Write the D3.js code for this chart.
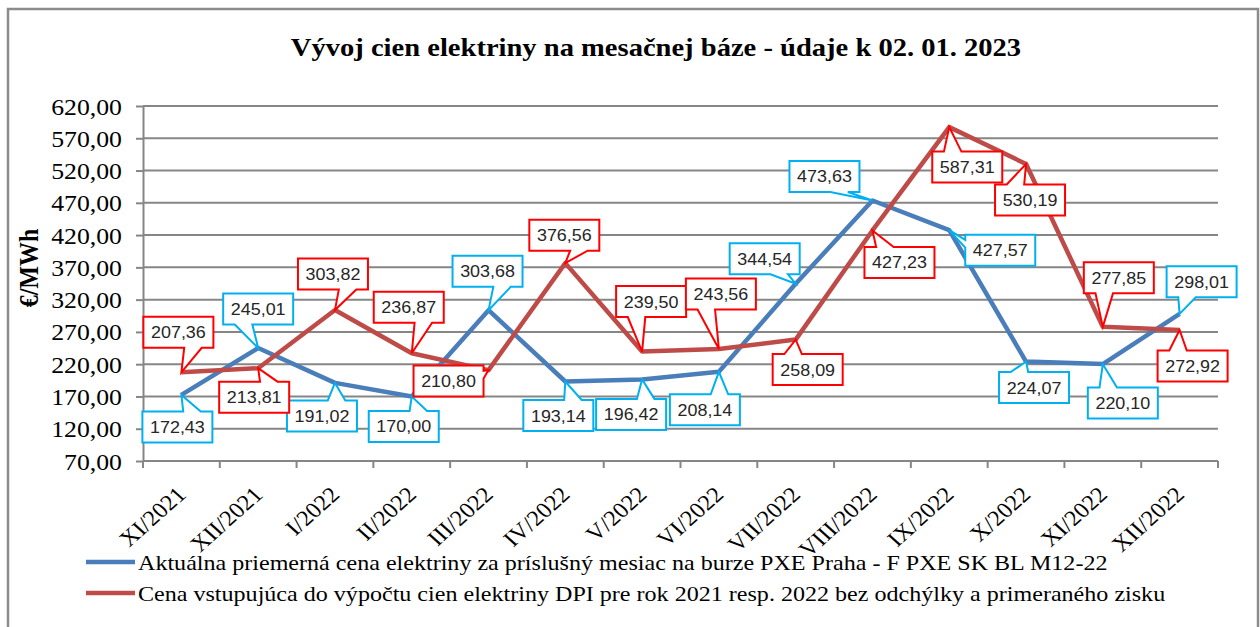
<!DOCTYPE html>
<html lang="sk">
<head>
<meta charset="utf-8">
<title>Vývoj cien elektriny na mesačnej báze</title>
<style>
  body { margin: 0; background: #fff; }
  .serif { font-family: "Liberation Serif", "Times New Roman", serif; fill: #000; }
  .callout text { font-family: "Liberation Sans", Arial, sans-serif; font-size: 16px; fill: #262626; }
</style>
</head>
<body>
<script src="https://cdn.jsdelivr.net/npm/d3@7/dist/d3.min.js"></script>
<script>

// ---- data ----
const categories = ["XI/2021", "XII/2021", "I/2022", "II/2022", "III/2022", "IV/2022", "V/2022",
                    "VI/2022", "VII/2022", "VIII/2022", "IX/2022", "X/2022", "XI/2022", "XII/2022"];
const pxeValues = [172.43, 245.01, 191.02, 170.00, 303.68, 193.14, 196.42,
                   208.14, 344.54, 473.63, 427.57, 224.07, 220.10, 298.01];
const dpiValues = [207.36, 213.81, 303.82, 236.87, 210.80, 376.56, 239.50,
                   243.56, 258.09, 427.23, 587.31, 530.19, 277.85, 272.92];
const yTicks = d3.range(70, 621, 50);
const seriesNames = [
  "Aktuálna priemerná cena elektriny za príslušný mesiac na burze PXE Praha - F PXE SK BL M12-22",
  "Cena vstupujúca do výpočtu cien elektriny DPI pre rok 2021 resp. 2022 bez odchýlky a primeraného zisku"
];
const title = "Vývoj cien elektriny na mesačnej báze - údaje k 02. 01. 2023";

// callout box offsets from their point (layout only)
const pxeCallout = [[-4, 32], [0, -39], [-13, 33], [-8, 30], [-1, -39], [-7, 34], [-11, 35],
                    [-14, 38], [-31, -25], [-48, -24], [51, 20], [8, 26], [20, 39], [22, -32]];
const dpiCallout = [[-3, -40], [-4, 29], [-2, -36], [-3, -46], [-40, 11], [-1, -28], [9, -50],
                    [2, -55], [12, 30], [27, 32], [18, 40], [4, 36], [16, -49], [13, 36]];

const W = 1260, H = 627;
const sx = 1.12;          // the source picture is a bit wider than tall
const gridColor = "#868686";
const blue = "#4a7ebb", red = "#be4b48";
const blueBorder = "#00b0f0", redBorder = "#ff0000";

const svg = d3.select("body").append("svg")
    .attr("width", W).attr("height", H);

// outer frame
svg.append("rect")
    .attr("x", 8).attr("y", 9).attr("width", 1250).attr("height", 660)
    .attr("fill", "#fff").attr("stroke", "#8c8c8c").attr("stroke-width", 2.5);

const x = d3.scaleBand().domain(categories).range([143, 1218]);
const y = d3.scaleLinear().domain([70, 620]).range([461, 106]);
const cx = c => x(c) + x.bandwidth() / 2;

// title
svg.append("text").attr("class", "serif")
    .attr("transform", `translate(656,56) scale(${sx},1)`)
    .attr("text-anchor", "middle")
    .style("font-size", "25.5px").style("font-weight", "bold")
    .text(title);

// gridlines
svg.append("g").selectAll("line")
  .data(yTicks.filter(d => d > 70))
  .join("line")
    .attr("x1", 143).attr("x2", 1218)
    .attr("y1", d => y(d)).attr("y2", d => y(d))
    .attr("stroke", gridColor).attr("stroke-width", 2);

// y axis
const fmt = d => d3.format(".2f")(d).replace(".", ",");
const yAxis = svg.append("g")
    .attr("transform", "translate(143,0)")
    .call(d3.axisLeft(y).tickValues(yTicks).tickSize(7).tickSizeOuter(0).tickFormat(fmt));
yAxis.attr("font-size", null).attr("font-family", null);
yAxis.select(".domain").attr("stroke", gridColor).attr("stroke-width", 2);
yAxis.selectAll(".tick line").attr("stroke", gridColor).attr("stroke-width", 2);
yAxis.selectAll(".tick text")
    .attr("class", "serif")
    .attr("x", null).attr("dy", null)
    .attr("transform", `translate(-21,8) scale(${sx},1)`)
    .style("font-size", "23px");
// axis line runs down to the x tick length
svg.append("line").attr("x1", 143).attr("x2", 143).attr("y1", 461).attr("y2", 468)
    .attr("stroke", gridColor).attr("stroke-width", 2);

// x axis line + ticks between categories
svg.append("line")
    .attr("x1", 143).attr("x2", 1218).attr("y1", y(70)).attr("y2", y(70))
    .attr("stroke", gridColor).attr("stroke-width", 2);
svg.append("g").selectAll("line")
  .data(categories.map(c => x(c)).concat([x.range()[1]]))
  .join("line")
    .attr("x1", d => d).attr("x2", d => d)
    .attr("y1", y(70)).attr("y2", y(70) + 7)
    .attr("stroke", gridColor).attr("stroke-width", 2);

svg.append("g").selectAll("text")
  .data(categories)
  .join("text")
    .attr("class", "serif")
    .attr("text-anchor", "end")
    .attr("transform", d => `translate(${cx(d) + 6},${y(70) + 35}) scale(${sx},1) rotate(-45)`)
    .style("font-size", "22px")
    .text(d => d);

// y axis title
svg.append("text").attr("class", "serif")
    .attr("transform", `translate(38,268) scale(${sx},1) rotate(-90)`)
    .attr("text-anchor", "middle")
    .style("font-size", "24px").style("font-weight", "bold")
    .text("€/MWh");

// series lines
const line = d3.line().x((d, i) => cx(categories[i])).y(d => y(d));
[[pxeValues, blue], [dpiValues, red]].forEach(([vals, col]) => {
  svg.append("path")
      .datum(vals)
      .attr("d", line)
      .attr("fill", "none")
      .attr("stroke", col)
      .attr("stroke-width", 4.5)
      .attr("stroke-linejoin", "round");
});

// Excel style rectangular callout with a wedge pointing at (px,py)
function calloutPath(l, t, w, h, px, py) {
  const r = l + w, b = t + h;
  const dx = px - (l + w / 2), dy = py - (t + h / 2);
  const dz = Math.abs(dy) - Math.abs(dx * h / w);
  const x1 = l + w * (dx > 0 ? 7 : 2) / 12, x2 = l + w * (dx > 0 ? 10 : 5) / 12;
  const y1 = t + h * (dy > 0 ? 7 : 2) / 12, y2 = t + h * (dy > 0 ? 10 : 5) / 12;
  if (dz > 0) {
    if (dy < 0) return `M${l},${t}L${x1},${t}L${px},${py}L${x2},${t}L${r},${t}L${r},${b}L${l},${b}Z`;
    return `M${l},${t}L${r},${t}L${r},${b}L${x2},${b}L${px},${py}L${x1},${b}L${l},${b}Z`;
  }
  if (dx < 0) return `M${l},${t}L${r},${t}L${r},${b}L${l},${b}L${l},${y2}L${px},${py}L${l},${y1}Z`;
  return `M${l},${t}L${r},${t}L${r},${y1}L${px},${py}L${r},${y2}L${r},${b}L${l},${b}Z`;
}

const boxW = 70, boxH = 31;
function drawCallouts(vals, offs, border) {
  const g = svg.append("g").attr("class", "callout");
  vals.forEach((v, i) => {
    const px = cx(categories[i]), py = y(v);
    const bx = px + offs[i][0], by = py + offs[i][1];
    g.append("path")
        .attr("d", calloutPath(bx - boxW / 2, by - boxH / 2, boxW, boxH, px, py))
        .attr("fill", "#fff")
        .attr("stroke", border)
        .attr("stroke-width", 2);
    g.append("text")
        .attr("transform", `translate(${bx},${by + 6}) scale(${sx},1)`)
        .attr("text-anchor", "middle")
        .text(fmt(v));
  });
}
drawCallouts(pxeValues, pxeCallout, blueBorder);
drawCallouts(dpiValues, dpiCallout, redBorder);

// legend
const legend = svg.append("g");
[[blue, 562], [red, 593]].forEach(([col, ly], i) => {
  legend.append("line")
      .attr("x1", 86).attr("x2", 135).attr("y1", ly).attr("y2", ly)
      .attr("stroke", col).attr("stroke-width", 4.5);
  legend.append("text").attr("class", "serif")
      .attr("transform", `translate(138,${ly + 8}) scale(${sx},1)`)
      .style("font-size", "21.5px")
      .text(seriesNames[i]);
});

</script>
</body>
</html>
